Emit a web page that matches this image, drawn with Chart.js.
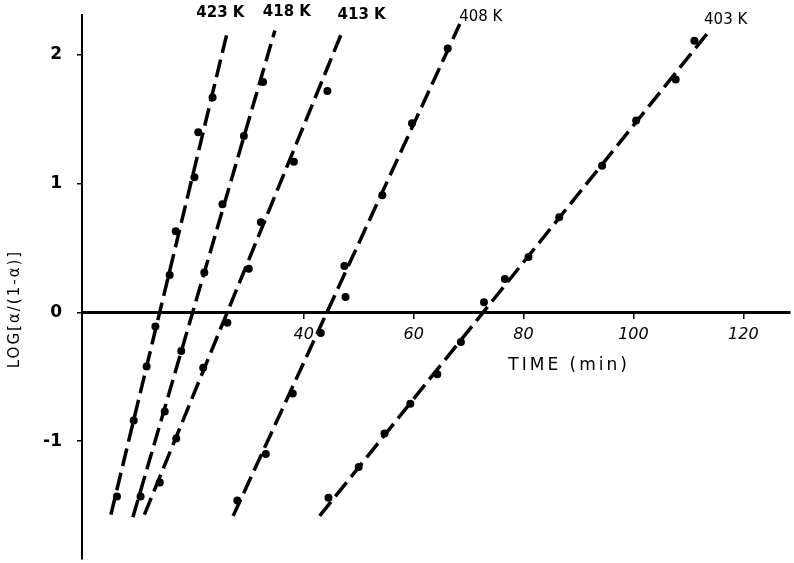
<!DOCTYPE html>
<html>
<head>
<meta charset="utf-8">
<script src="https://cdn.jsdelivr.net/npm/chart.js@4.4.1/dist/chart.umd.min.js"></script>
<style>
  body { margin: 0; background: #fff; }
  #wrap { width: 794px; height: 563px; }
</style>
</head>
<body>
<div id="wrap"><canvas id="myChart" width="794" height="563"></canvas></div>
<script>
// temperatures
const seriesNames = ['423 K', '418 K', '413 K', '408 K', '403 K'];

// measured points, time (min) and log[a/(1-a)]
const t423 = [6.0, 9.05, 11.4, 13.0, 15.6, 16.7, 20.1, 20.8, 23.4];
const y423 = [-1.43, -0.84, -0.42, -0.11, 0.29, 0.63, 1.05, 1.40, 1.67];
const t418 = [10.3, 14.7, 17.7, 21.9, 25.2, 29.1, 32.6];
const y418 = [-1.43, -0.77, -0.30, 0.31, 0.84, 1.37, 1.79];
const t413 = [13.8, 16.8, 21.7, 26.1, 30.0, 32.2, 38.2, 44.3];
const y413 = [-1.32, -0.98, -0.43, -0.08, 0.34, 0.70, 1.17, 1.72];
const t408 = [27.9, 33.1, 38.0, 43.1, 47.4, 47.6, 54.3, 59.7, 66.2];
const y408 = [-1.46, -1.10, -0.63, -0.16, 0.36, 0.12, 0.91, 1.47, 2.05];
const t403 = [44.5, 50.0, 54.7, 59.4, 64.3, 68.6, 72.8, 76.6, 80.9, 86.5, 94.3, 100.5, 107.7, 111.1];
const y403 = [-1.44, -1.20, -0.94, -0.71, -0.48, -0.23, 0.08, 0.26, 0.43, 0.74, 1.14, 1.49, 1.81, 2.11];

// fitted straight lines (start, end)
const fitT423 = [4.9, 26.1];   const fitY423 = [-1.57, 2.18];
const fitT418 = [8.9, 34.75];  const fitY418 = [-1.59, 2.19];
const fitT413 = [11.0, 46.9];  const fitY413 = [-1.57, 2.17];
const fitT408 = [27.15, 68.4]; const fitY408 = [-1.58, 2.24];
const fitT403 = [42.9, 113.7]; const fitY403 = [-1.58, 2.18];

// tick labels
const xTicks = [40, 60, 80, 100, 120];
const yTicks = [-1, 0, 1, 2];

const pointT = [t423, t418, t413, t408, t403];
const pointY = [y423, y418, y413, y408, y403];
const fitT = [fitT423, fitT418, fitT413, fitT408, fitT403];
const fitY = [fitY423, fitY418, fitY413, fitY408, fitY403];

const zip = (xs, ys) => xs.map((x, i) => ({ x: x, y: ys[i] }));

const datasets = [];
seriesNames.forEach((name, i) => {
    datasets.push({
        label: name + ' fit',
        data: zip(fitT[i], fitY[i]),
        showLine: true,
        borderColor: '#000',
        borderWidth: 3.5,
        borderDash: [18, 7],
        pointRadius: 0
    });
    datasets.push({
        label: name,
        data: zip(pointT[i], pointY[i]),
        showLine: false,
        pointRadius: 4,
        pointBackgroundColor: '#000',
        pointBorderWidth: 0
    });
});

// label offsets from the top of each fitted line
const labelOffsets = [[-7, -19], [12, -18], [20, -18], [21, -7], [17, -12]];

const textPlugin = {
    id: 'texts',
    afterDraw(chart) {
        const ctx = chart.ctx;
        const xs = chart.scales.x;
        const ys = chart.scales.y;
        ctx.save();
        ctx.fillStyle = '#000';
        ctx.textAlign = 'center';
        ctx.textBaseline = 'middle';

        seriesNames.forEach((name, i) => {
            const px = xs.getPixelForValue(fitT[i][1]) + labelOffsets[i][0];
            const py = ys.getPixelForValue(fitY[i][1]) + labelOffsets[i][1];
            ctx.font = (i < 3 ? 'bold ' : '') + '15px "DejaVu Sans"';
            ctx.fillText(name, px, py);
        });

        ctx.font = '17px "DejaVu Sans"';
        ctx.letterSpacing = '3px';
        ctx.fillText('TIME (min)', xs.getPixelForValue(88.3), ys.getPixelForValue(0) + 53);

        ctx.translate(15, 309);
        ctx.rotate(-Math.PI / 2);
        ctx.font = '15px "DejaVu Sans"';
        ctx.letterSpacing = '2px';
        ctx.fillText('LOG[α/(1-α)]', 0, 0);
        ctx.restore();
    }
};

const ctx = document.getElementById('myChart').getContext('2d');

const myChart = new Chart(ctx, {
    type: 'scatter',
    data: { datasets: datasets },
    options: {
        responsive: false,
        animation: false,
        layout: { padding: { top: 15, bottom: 3, left: 0, right: 0 } },
        scales: {
            x: {
                type: 'linear',
                min: -0.36,
                max: 128.5,
                position: { y: 0 },
                afterBuildTicks: (scale) => { scale.ticks = xTicks.map(v => ({ value: v })); },
                afterFit: (scale) => { scale.paddingLeft = 0; scale.paddingRight = 0; },
                grid: { drawOnChartArea: false, drawTicks: true, tickLength: 5, color: '#000', lineWidth: 1.5 },
                border: { color: '#000', width: 3 },
                ticks: {
                    color: '#000',
                    padding: 8,
                    font: { family: 'DejaVu Sans', size: 16, style: 'italic' }
                }
            },
            y: {
                type: 'linear',
                min: -1.915,
                max: 2.31,
                afterBuildTicks: (scale) => { scale.ticks = yTicks.map(v => ({ value: v })); },
                afterFit: (scale) => { scale.width = 82; scale.paddingTop = 0; scale.paddingBottom = 0; },
                grid: { drawOnChartArea: false, drawTicks: true, tickLength: 5, color: '#000', lineWidth: 1.5 },
                border: { color: '#000', width: 2 },
                ticks: {
                    color: '#000',
                    padding: 15,
                    font: { family: 'DejaVu Sans', size: 17, weight: 'bold' }
                }
            }
        },
        plugins: {
            legend: { display: false },
            tooltip: { enabled: false }
        }
    },
    plugins: [textPlugin]
});
</script>
</body>
</html>
